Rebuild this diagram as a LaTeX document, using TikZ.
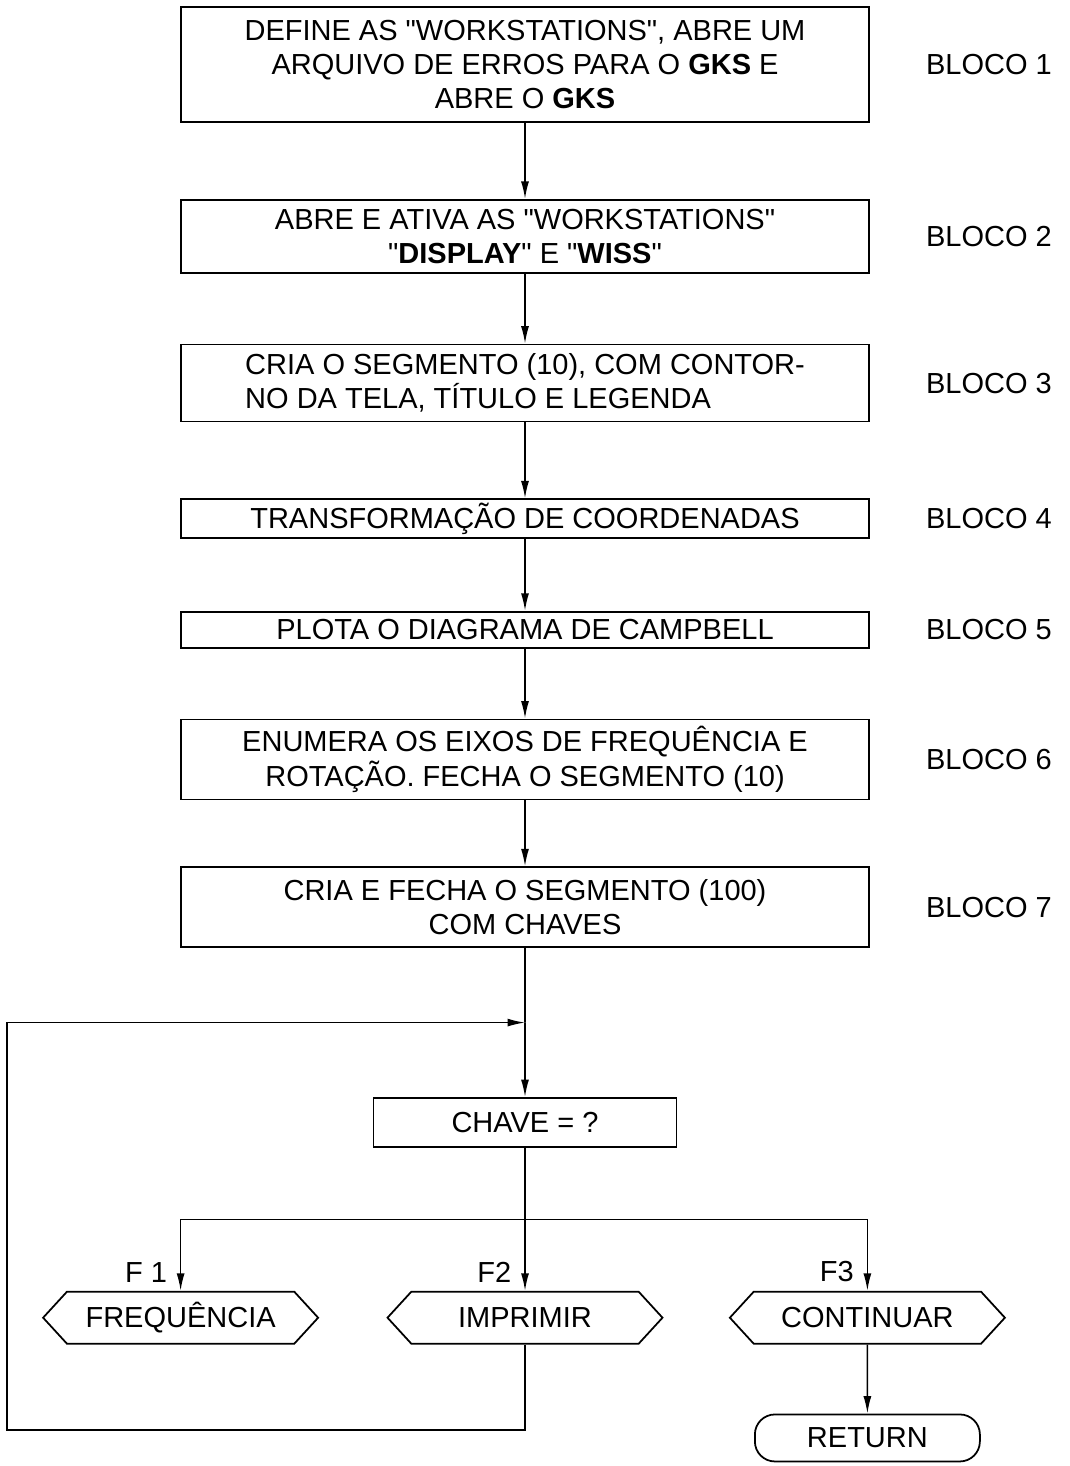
\documentclass[tikz,border=0pt]{standalone}
\usepackage{fontspec}
\setmainfont{Liberation Sans}[Ligatures=TeXOff]
\usetikzlibrary{arrows.meta,positioning,shapes.symbols,calc}

\begin{document}
\begin{tikzpicture}[>={Latex[length=3.5mm,width=1.6mm]},node distance=1.5cm,font=\fontsize{16.5}{19.5}\selectfont]
  \useasboundingbox (0,0) rectangle (21.4,-29.32);
  \tikzstyle{box}=[draw,line width=1pt,align=center,minimum width=13.76cm,inner sep=2pt]
  \tikzstyle{bloco}=[anchor=west]
  \tikzstyle{hexa}=[draw,line width=1pt,signal,signal to=west and east,signal pointer angle=95,minimum width=5.5cm,minimum height=1.04cm,inner xsep=2pt]
  \tikzstyle{fim}=[draw,line width=1pt,rounded corners=0.4cm,minimum width=4.5cm,minimum height=0.94cm]
  \tikzstyle{flow}=[line width=0.9pt]
  % blocos principais
  \node[box,minimum height=2.3cm] (b1) at (10.5,-1.29) {DEFINE AS "WORKSTATIONS", ABRE UM\\ARQUIVO DE ERROS PARA O \textbf{GKS} E\\ABRE O \textbf{GKS}};
  \node[box,minimum height=1.46cm,below=1.52cm of b1] (b2) {ABRE E ATIVA AS "WORKSTATIONS"\\"\textbf{DISPLAY}" E "\textbf{WISS}"};
  \node[box,minimum height=1.54cm,below=1.4cm of b2,align=left] (b3) {CRIA O SEGMENTO (10), COM CONTOR-\\NO DA TELA, TÍTULO E LEGENDA};
  \node[box,minimum height=0.76cm,below=1.52cm of b3] (b4) {TRANSFORMAÇÃO DE COORDENADAS};
  \node[box,minimum height=0.72cm,below=1.44cm of b4] (b5) {PLOTA O DIAGRAMA DE CAMPBELL};
  \node[box,minimum height=1.6cm,below=1.4cm of b5] (b6) {ENUMERA OS EIXOS DE FREQUÊNCIA E\\ROTAÇÃO. FECHA O SEGMENTO (10)};
  \node[box,minimum height=1.6cm,below=1.32cm of b6] (b7) {CRIA E FECHA O SEGMENTO (100)\\COM CHAVES};
  % rotulos
  \node[bloco,right=1cm of b1] (l1) {BLOCO 1};
  \node[bloco,right=1cm of b2] (l2) {BLOCO 2};
  \node[bloco,right=1cm of b3] (l3) {BLOCO 3};
  \node[bloco,right=1cm of b4] (l4) {BLOCO 4};
  \node[bloco,right=1cm of b5] (l5) {BLOCO 5};
  \node[bloco,right=1cm of b6] (l6) {BLOCO 6};
  \node[bloco,right=1cm of b7] (l7) {BLOCO 7};
  % teclas
  \node[box,minimum width=6.06cm,minimum height=0.98cm,below=2.98cm of b7] (chave) {CHAVE = ?};
  \node[hexa,below=2.86cm of chave] (impr) {IMPRIMIR};
  \node[hexa,left=1.34cm of impr] (freq) {FREQUÊNCIA};
  \node[hexa,right=1.3cm of impr] (cont) {CONTINUAR};
  \node[fim,below=1.38cm of cont] (ret) {RETURN};
  \node[above left=0.05cm and 0.15cm of freq.north] (f1) {F 1};
  \node[above left=0.05cm and 0.15cm of impr.north] (f2) {F2};
  \node[above left=0.05cm and 0.15cm of cont.north] (f3) {F3};
  \coordinate (join) at ($(b7.south)!.5!(chave.north)$);
  \coordinate (fork) at ($(chave.south)!.5!(impr.north)$);
  \coordinate (volta) at (0.14,-28.6);
  % ligacoes
  \draw[flow,->] (b1) -- (b2);
  \draw[flow,->] (b2) -- (b3);
  \draw[flow,->] (b3) -- (b4);
  \draw[flow,->] (b4) -- (b5);
  \draw[flow,->] (b5) -- (b6);
  \draw[flow,->] (b6) -- (b7);
  \draw[flow] (b7) -- (join);
  \draw[flow,->] (join) -- (chave);
  \draw[flow,->] (chave) -- (impr);
  \draw[flow,->] (fork) -| (freq.north);
  \draw[flow,->] (fork) -| (cont.north);
  \draw[flow,->] (cont) -- (ret);
  \draw[flow,->] (impr.south) |- (volta) |- (join);
\end{tikzpicture}
\end{document}
